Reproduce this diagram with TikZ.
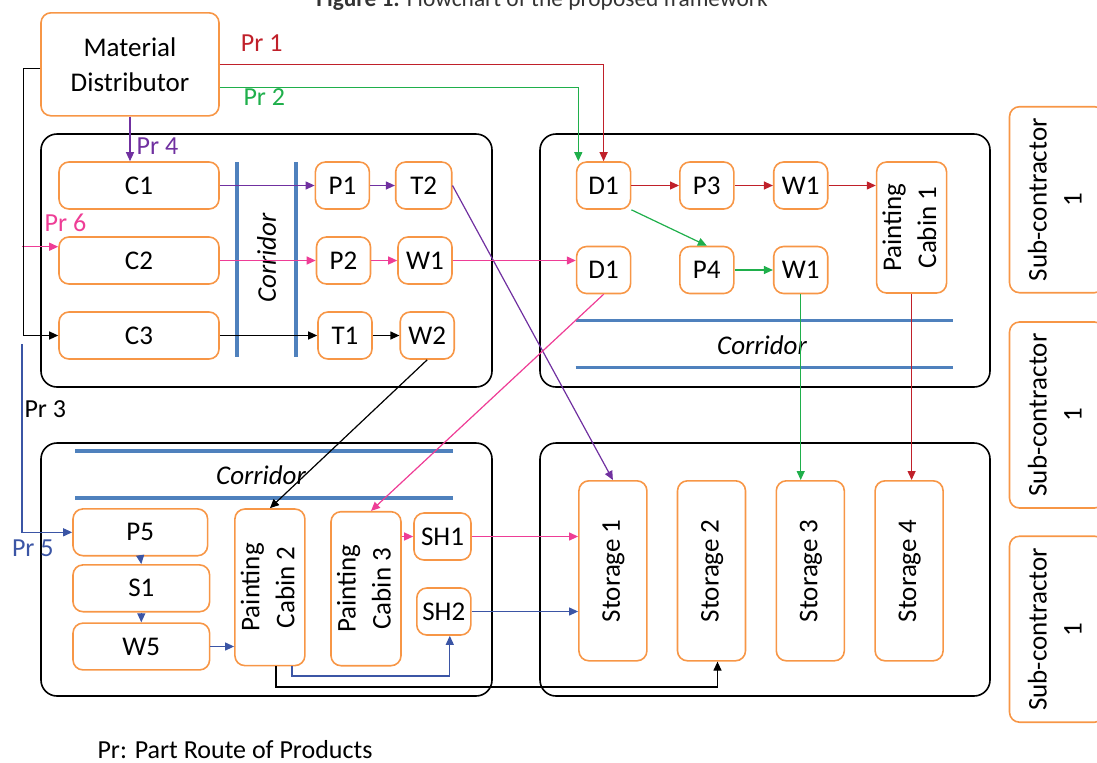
\documentclass[tikz,border=0pt]{standalone}
\usepackage{fontspec}
\setmainfont{Carlito}
\usetikzlibrary{arrows.meta,calc}
\usepackage{xcolor}
\definecolor{boxorange}{HTML}{F79646}
\definecolor{corrblue}{HTML}{4F81BD}
\definecolor{prred}{HTML}{C0202A}
\definecolor{prgreen}{HTML}{1FAF4B}
\definecolor{prpurple}{HTML}{7030A0}
\definecolor{prpink}{HTML}{EE3D96}
\definecolor{prblue}{HTML}{3B55A5}
\newcommand{\boxfont}{\fontsize{13.5}{17.5}\selectfont}
\newcommand{\uptext}[1]{\rotatebox{90}{\begin{tabular}{@{}c@{}}#1\end{tabular}}}

\begin{document}
\begin{tikzpicture}[x=0.5pt,y=-0.5pt,
  box/.style={draw=boxorange,line width=0.8pt,rounded corners=5pt,inner sep=0pt,align=center,font=\boxfont},
  unit/.style={box,minimum width=27pt,minimum height=23.5pt},
  cbox/.style={box,minimum width=80pt,minimum height=23.5pt},
  cabin/.style={box,minimum width=34pt},
  store/.style={box,minimum width=34pt,minimum height=90pt},
  subbox/.style={box,minimum width=47.5pt,minimum height=93pt},
  zone/.style={draw=black,line width=0.8pt,rounded corners=8pt},
  wall/.style={corrblue,line width=1.6pt},
  corr/.style={font=\boxfont\itshape,inner sep=0pt},
  route/.style={line width=0.6pt,-{Triangle[length=4.5pt,width=4pt]}},
  prlabel/.style={font=\fontsize{13}{15}\selectfont,inner sep=0pt}]

  \useasboundingbox (0,0) rectangle (1097,762);
  % Title (cut at the top)
  \node[font=\fontsize{11.7}{14}\selectfont,anchor=base,text=black!80] (title) at (542,6.5) {\textbf{Figure 1:} Flowchart of the proposed framework};

  % Zones
  \draw[zone] (41,134) rectangle (492,387);
  \draw[zone] (540,134) rectangle (990,387);
  \draw[zone] (41,443) rectangle (492,696);
  \draw[zone] (540,443) rectangle (990,696);

  % Corridors
  \draw[wall] (237,162) -- (237,357);
  \draw[wall] (296,162) -- (296,357);
  \node[corr,rotate=90] (corr1) at (266.6,258) {Corridor};
  \draw[wall] (575.5,320.7) -- (953,320.7);
  \draw[wall] (575.5,367.3) -- (953,367.3);
  \node[corr] (corr2) at (762,345) {Corridor};
  \draw[wall] (75,451) -- (452.5,451);
  \draw[wall] (75,498) -- (452.5,498);
  \node[corr] (corr3) at (261,475.7) {Corridor};

  % Material distributor
  \node[box,minimum width=89pt,minimum height=51.5pt] (md) at (130,64.3) {Material\\Distributor};

  % Cutting and first stations
  \node[cbox] (c1) at (139,185.5) {C1};
  \node[cbox] (c2) at (139,260.5) {C2};
  \node[cbox] (c3) at (139,335.5) {C3};
  \node[unit] (p1) at (342.4,185.5) {P1};
  \node[unit,minimum width=28pt] (t2) at (423.7,185.5) {T2};
  \node[unit] (p2) at (343.5,260.5) {P2};
  \node[unit] (w1a) at (425,260.5) {W1};
  \node[unit] (t1) at (345,335.5) {T1};
  \node[unit] (w2) at (427.2,335.5) {W2};

  % Second hall
  \node[unit] (d1a) at (603.6,185.5) {D1};
  \node[unit] (p3) at (706.8,185.5) {P3};
  \node[unit] (w1b) at (800.7,185.5) {W1};
  \node[cabin,minimum height=65.5pt] (pc1) at (911.6,227.5) {\uptext{Painting\\Cabin 1}};
  \node[unit] (d1b) at (603.6,270) {D1};
  \node[unit] (p4) at (706.8,270) {P4};
  \node[unit] (w1c) at (800.7,270) {W1};

  % Third hall
  \node[box,minimum width=67.3pt,minimum height=23.4pt] (p5) at (140.3,532.3) {P5};
  \node[box,minimum width=68.3pt,minimum height=23.4pt] (s1) at (141.3,588.3) {S1};
  \node[box,minimum width=68.3pt,minimum height=23.4pt] (w5) at (141.3,646.5) {W5};
  \node[cabin,minimum height=78.3pt] (pc2) at (269.9,587.3) {\uptext{Painting\\Cabin 2}};
  \node[cabin,minimum height=77pt] (pc3) at (366,588.7) {\uptext{Painting\\Cabin 3}};
  \node[unit,minimum width=28.5pt] (sh1) at (442.5,536.5) {SH1};
  \node[unit] (sh2) at (443.8,611.5) {SH2};

  % Storages
  \node[store] (st1) at (612.9,570.8) {\uptext{Storage 1}};
  \node[store] (st2) at (711.5,570.8) {\uptext{Storage 2}};
  \node[store] (st3) at (810.3,570.8) {\uptext{Storage 3}};
  \node[store] (st4) at (909.1,570.8) {\uptext{Storage 4}};

  % Sub-contractors
  \node[subbox] (sc1) at (1057,199.7) {\uptext{Sub-contractor\\1}};
  \node[subbox] (sc2) at (1057,415) {\uptext{Sub-contractor\\1}};
  \node[subbox] (sc3) at (1057,629.2) {\uptext{Sub-contractor\\1}};

  % Pr 1
  \draw[route,prred] (md.east) -| (d1a.north);
  \draw[route,prred] (d1a.east) -- (p3.west);
  \draw[route,prred] (p3.east) -- (w1b.west);
  \draw[route,prred] (w1b.east) -- (w1b.east -| pc1.west);
  \draw[route,prred] (pc1.south) -- (pc1.south |- st4.north);
  % Pr 2
  \draw[route,prgreen] ($(md.east)+(0,23.5)$) -| ($(d1a.north west)+(2.5,0)$);
  \draw[route,prgreen] (d1a.south east) -- (p4.north);
  \draw[route,prgreen] (p4.east) -- (w1c.west);
  \draw[route,prgreen] (w1c.south) -- (w1c.south |- st3.north);
  % Pr 4
  \draw[route,prpurple] (md.south) -- (md.south |- c1.north);
  \draw[route,prpurple] (c1.east) -- (p1.west);
  \draw[route,prpurple] (p1.east) -- (t2.west);
  \draw[route,prpurple] (t2.east) -- (st1.north);
  % Pr 6
  \coordinate (pr6) at (22,246.7);
  \draw[route,prpink] (pr6) -- (pr6 -| c2.west);
  \draw[route,prpink] (c2.east) -- (p2.west);
  \draw[route,prpink] (p2.east) -- (w1a.west);
  \draw[route,prpink] (w1a.east) -- (w1a.east -| d1b.west);
  \draw[route,prpink] (d1b.south) -- ($(pc3.north)+(5,0)$);
  \draw[route,prpink] (sh1.west -| pc3.east) -- (sh1.west);
  \draw[route,prpink] (sh1.east) -- (sh1.east -| st1.west);
  % Pr 3
  \draw[route] ($(md.west)+(0,4.5)$) -- ++(-17,0) |- (c3.west);
  \draw[route] (c3.east) -- (t1.west);
  \draw[route] (t1.east) -- (w2.west);
  \draw[route] (w2.south) -- (pc2.north);
  \draw[route] ($(pc2.south)+(6,0)$) -- ++(0,20.5) -| ($(st2.south)+(6,0)$);
  % Pr 5
  \coordinate (pr5) at (22,344);
  \draw[route,prblue] (pr5) |- (p5.west);
  \draw[route,prblue] (p5.south) -- (s1.north);
  \draw[route,prblue] (s1.south) -- (w5.north);
  \draw[route,prblue] (w5.east) -- (w5.east -| pc2.west);
  \draw[route,prblue] ($(pc2.south)+(22,0)$) -- ++(0,9.5) -| ($(sh2.south)+(6,0)$);
  \draw[route,prblue] (sh2.east) -- (sh2.east -| st1.west);

  % Route labels
  \node[prlabel,text=prred] (lpr1) at (261.7,43) {Pr 1};
  \node[prlabel,text=prgreen] (lpr2) at (264.3,97.5) {Pr 2};
  \node[prlabel,text=prpurple] (lpr4) at (157.5,146) {Pr 4};
  \node[prlabel,text=prpink] (lpr6) at (65.5,222.5) {Pr 6};
  \node[prlabel] (lpr3) at (45.3,409) {Pr 3};
  \node[prlabel,text=prblue] (lpr5) at (32.8,548.5) {Pr 5};
  \node[prlabel] (note) at (235,750) {Pr: Part Route of Products};
\end{tikzpicture}
\end{document}
